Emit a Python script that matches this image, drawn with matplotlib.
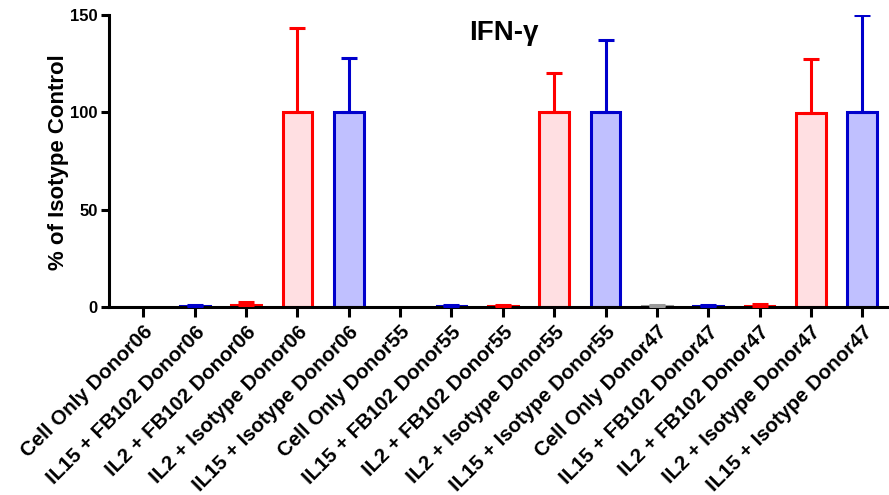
import numpy as np
import matplotlib
matplotlib.use("Agg")
import matplotlib.pyplot as plt

plt.rcParams['font.family'] = ['Liberation Sans', 'DejaVu Sans']
plt.rcParams['font.weight'] = 'bold'

# ── Data ──────────────────────────────────────────────────────
CONDITIONS = ["Cell Only", "IL15 + FB102", "IL2 + FB102", "IL2 + Isotype", "IL15 + Isotype"]
DONORS = ["Donor06", "Donor55", "Donor47"]

mean_d06 = [0.0, 0.4, 1.2, 100.0, 100.0]
err_d06 = [0.0, 0.4, 1.2, 43.5, 28.0]
mean_d55 = [0.0, 0.4, 0.4, 100.0, 100.3]
err_d55 = [0.0, 0.4, 0.4, 20.0, 37.0]
mean_d47 = [0.4, 0.4, 0.6, 99.5, 100.0]
err_d47 = [0.4, 0.4, 0.9, 28.0, 50.0]

EDGE = {"Cell Only": "#9a9a9a", "IL15 + FB102": "#0000cc", "IL2 + FB102": "#ff0000",
        "IL2 + Isotype": "#ff0000", "IL15 + Isotype": "#0000cc"}
FILL = {"Cell Only": "#e6e6e6", "IL15 + FB102": "#c0c0ff", "IL2 + FB102": "#ffdfe2",
        "IL2 + Isotype": "#ffdfe2", "IL15 + Isotype": "#c0c0ff"}

labels = [f"{c} {d}" for d in DONORS for c in CONDITIONS]
means = mean_d06 + mean_d55 + mean_d47
errs = err_d06 + err_d55 + err_d47
conds = CONDITIONS * len(DONORS)

# ── Figure ────────────────────────────────────────────────────
fig = plt.figure(figsize=(8.89, 4.95), dpi=100)
ax = fig.add_axes([0.1226, 0.3798, 0.8774, 0.5899])

x = np.arange(len(labels))
for i in x:
    c = conds[i]
    if means[i] <= 0:
        continue
    ax.bar(i, means[i], width=0.58, color=FILL[c], edgecolor=EDGE[c],
           linewidth=2.2, zorder=2)
    # one-sided (upper) error bar, GraphPad style
    ax.errorbar(i, means[i], yerr=[[0], [errs[i]]], fmt='none', ecolor=EDGE[c],
                elinewidth=2.2, capsize=6, capthick=2.2, zorder=3)

ax.set_xlim(-0.67, 14.52)
ax.set_ylim(0, 150)
ax.set_yticks([0, 50, 100, 150])
ax.set_xticks(x)
ax.set_xticklabels(labels, rotation=45, ha='right', va='top',
                   rotation_mode='anchor', fontsize=14.8, fontweight='bold')
ax.tick_params(axis='x', length=7, width=2.2, pad=4)
ax.tick_params(axis='y', length=6, width=2.2, labelsize=12, pad=2)
for lbl in ax.get_yticklabels():
    lbl.set_fontweight('bold')

for side in ['top', 'right']:
    ax.spines[side].set_visible(False)
for side in ['left', 'bottom']:
    ax.spines[side].set_linewidth(2.2)

fig.text(504 / 889, 1 - 33 / 495, "IFN-γ", ha='center', va='center',
         fontsize=20, fontweight='bold')
fig.text(59 / 889, 1 - 162 / 495, "% of Isotype Control", rotation=90,
         ha='center', va='center', fontsize=16, fontweight='bold')

fig.savefig("out.png", dpi=100)
